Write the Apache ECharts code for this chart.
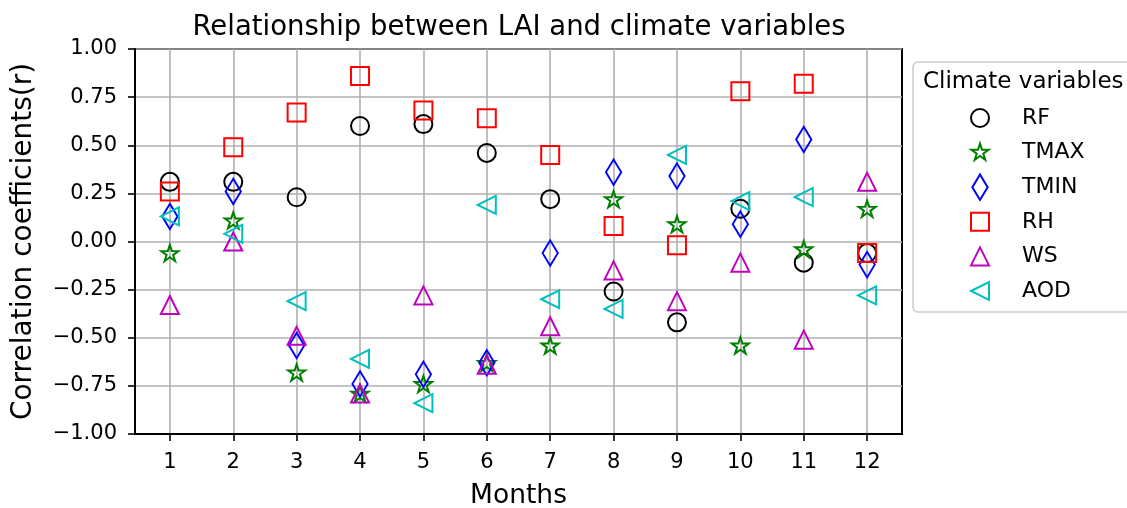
<!DOCTYPE html>
<html><head><meta charset="utf-8">
<script src="https://cdn.jsdelivr.net/npm/echarts@6/dist/echarts.min.js"></script>
<style>html,body{margin:0;padding:0;background:#fff}#c{width:1127px;height:508px}</style>
</head><body><div id="c"></div>
<script>
const months = [1,2,3,4,5,6,7,8,9,10,11,12];
const yTicks = [-1,-0.75,-0.5,-0.25,0,0.25,0.5,0.75,1];
const seriesNames = ['RF','TMAX','TMIN','RH','WS','AOD'];
const RF   = [0.31,0.31,0.23,0.60,0.61,0.46,0.22,-0.26,-0.42,0.17,-0.11,-0.06];
const TMAX = [-0.06,0.11,-0.68,-0.79,-0.74,-0.63,-0.54,0.22,0.09,-0.54,-0.04,0.17];
const TMIN = [0.13,0.26,-0.54,-0.74,-0.69,-0.63,-0.06,0.36,0.34,0.09,0.53,-0.12];
const RH   = [0.26,0.49,0.67,0.86,0.68,0.64,0.45,0.08,-0.02,0.78,0.82,-0.06];
const WS   = [-0.33,0.00,-0.49,-0.79,-0.28,-0.64,-0.44,-0.15,-0.31,-0.11,-0.51,0.31];
const AOD  = [0.13,0.04,-0.31,-0.61,-0.84,0.19,-0.30,-0.35,0.45,0.21,0.23,-0.28];

const FONT = 'DejaVu Sans';
const S = 18; // marker path size (px)

function starPath(r){
  let p = '';
  for (let i = 0; i < 10; i++) {
    const a = Math.PI/2 + i*Math.PI/5;
    const rr = i % 2 === 0 ? r : r*0.381966;
    const x = rr*Math.cos(a), y = -rr*Math.sin(a);
    p += (i === 0 ? 'M' : 'L') + x.toFixed(3) + ',' + y.toFixed(3) + ' ';
  }
  return p + 'Z';
}
const h = S/2;
const box = 'M-15,-15 M15,15 ';
const legendIcons = {
  RF:   'path://' + box + 'M'+h+',0 A'+h+','+h+' 0 1,1 '+(-h)+',0 A'+h+','+h+' 0 1,1 '+h+',0 Z',
  TMAX: 'path://' + box + starPath(h),
  TMIN: 'path://' + box + 'M0,'+(-h*1.414)+' L'+(h*0.849)+',0 L0,'+(h*1.414)+' L'+(-h*0.849)+',0 Z',
  RH:   'path://' + box + 'M'+(-h)+','+(-h)+' L'+h+','+(-h)+' L'+h+','+h+' L'+(-h)+','+h+' Z',
  WS:   'path://' + box + 'M0,'+(-h)+' L'+h+','+h+' L'+(-h)+','+h+' Z',
  AOD:  'path://' + box + 'M'+(-h)+',0 L'+h+','+(-h)+' L'+h+','+h+' Z'
};

const values = {RF, TMAX, TMIN, RH, WS, AOD};
const colors = {RF:'#000000', TMAX:'#008000', TMIN:'#0000ff', RH:'#ff0000', WS:'#bf00bf', AOD:'#00bfbf'};
const symbols = {
  RF: ['circle', S, 0],
  TMAX: ['path://' + starPath(1), [S*0.951, S*0.9045], 0],
  TMIN: ['diamond', [S*0.849, S*1.414], 0],
  RH: ['rect', S, 0],
  WS: ['triangle', S, 0],
  AOD: ['triangle', S, 90]
};

const fmt = v => (v < 0 ? '\u2212' : '') + Math.abs(v).toFixed(2);

const chart = echarts.init(document.getElementById('c'), null, {renderer:'canvas'});
chart.setOption({
  animation: false,
  backgroundColor: '#fff',
  title: {
    text: 'Relationship between LAI and climate variables',
    left: 514, top: 9, textAlign: 'center',
    textStyle: {fontFamily: FONT, fontSize: 27.5, fontWeight: 'normal', color: '#000'}
  },
  graphic: [
    {type:'rect', shape:{x:913, y:62, width:240, height:250, r:5},
     style:{fill:'#fff', stroke:'#cccccc', lineWidth:1.5}, z:0},
    {type:'text', x:923, y:82, style:{text:'Climate variables', font:'23px "DejaVu Sans"', fill:'#000', textVerticalAlign:'middle'}, z:5}
  ],
  legend: {
    orient: 'vertical', left: 959, top: 97,
    itemWidth: 74, itemHeight: 30, itemGap: 2.6,
    textStyle: {fontFamily: FONT, fontSize: 22, color: '#000'},
    itemStyle: {borderWidth: 2},
    data: seriesNames.map(n => ({name: n, icon: legendIcons[n]}))
  },
  grid: {left: 135, right: 225, top: 49, bottom: 74, show: true, borderColor: '#000', borderWidth: 2,
         containLabel: false, outerBoundsMode: 'none'},
  xAxis: {
    type: 'value', min: 0.45, max: 12.55,
    name: 'Months', nameLocation: 'middle', nameGap: 49,
    nameTextStyle: {fontFamily: FONT, fontSize: 26.5, color: '#000'},
    axisLine: {show: true, onZero: false, lineStyle: {color: '#000', width: 2}},
    axisTick: {show: true, inside: false, length: 7, lineStyle: {color: '#000', width: 1.6}, customValues: months},
    axisLabel: {customValues: months, margin: 18, fontFamily: FONT, fontSize: 21, color: '#000'},
    splitLine: {show: true, lineStyle: {color: '#b0b0b0', width: 1.6}}
  },
  yAxis: {
    type: 'value', min: -1, max: 1, interval: 0.25,
    name: 'Correlation coefficients(r)', nameLocation: 'middle', nameGap: 97,
    nameTextStyle: {fontFamily: FONT, fontSize: 28, color: '#000'},
    axisLine: {show: true, onZero: false, lineStyle: {color: '#000', width: 2}},
    axisTick: {show: true, inside: false, length: 7, lineStyle: {color: '#000', width: 1.6}},
    axisLabel: {margin: 18, fontFamily: FONT, fontSize: 21, color: '#000', formatter: fmt},
    splitLine: {show: true, lineStyle: {color: '#b0b0b0', width: 1.6}}
  },
  series: seriesNames.map(n => ({
    name: n, type: 'scatter',
    symbol: symbols[n][0], symbolSize: symbols[n][1], symbolRotate: symbols[n][2],
    symbolKeepAspect: false,
    itemStyle: {color: 'transparent', borderColor: colors[n], borderWidth: 2, opacity: 1},
    emphasis: {disabled: true},
    data: months.map((m, i) => [m, values[n][i]])
  }))
});
</script></body></html>
